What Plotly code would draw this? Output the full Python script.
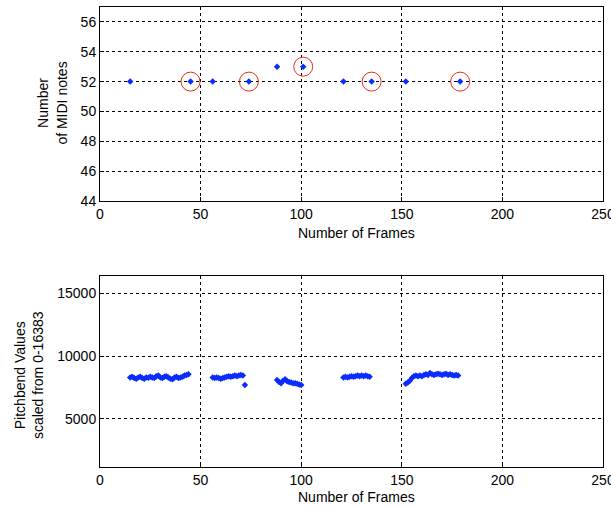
import plotly.graph_objects as go

# ---- data ----
note_frames = [15, 45, 56, 74, 88, 101, 121, 135, 152, 179]
note_values = [52, 52, 52, 52, 53, 53, 52, 52, 52, 52]

circled_frames = [45, 74, 101, 135, 179]
circled_values = [52, 52, 53, 52, 52]

pb_frames = [15, 16, 17, 18, 19, 20, 21, 22, 23, 24, 25, 26, 27, 28, 29,
             30, 31, 32, 33, 34, 35, 36, 37, 38, 39, 40, 41, 42, 43, 44,
             56, 57, 58, 59, 60, 61, 62, 63, 64, 65, 66, 67, 68, 69, 70, 71,
             72,
             88, 89, 90, 91, 92, 93, 94, 95, 96, 97, 98, 99, 100,
             121, 122, 123, 124, 125, 126, 127, 128, 129, 130, 131, 132, 133, 134,
             152, 153, 154, 155, 156, 157, 158, 159, 160, 161, 162, 163, 164, 165,
             166, 167, 168, 169, 170, 171, 172, 173, 174, 175, 176, 177, 178]
pb_values = [8300, 8350, 8250, 8200, 8300, 8350, 8250, 8200, 8300, 8280, 8350, 8300, 8250, 8400, 8450,
             8300, 8250, 8350, 8400, 8300, 8200, 8150, 8300, 8350, 8250, 8300, 8350, 8450, 8500, 8550,
             8300, 8250, 8300, 8250, 8200, 8250, 8300, 8350, 8400, 8350, 8400, 8450, 8400, 8450, 8500, 8450,
             7700,
             8100, 7950, 7850, 8050, 8150, 8000, 7950, 7900, 7850, 7850, 7800, 7750, 7700,
             8300, 8350, 8300, 8350, 8400, 8350, 8400, 8450, 8400, 8450, 8400, 8450, 8400, 8350,
             7800, 7900, 8050, 8250, 8400, 8450, 8400, 8450, 8400, 8500, 8550, 8500, 8650, 8550,
             8500, 8550, 8600, 8550, 8500, 8550, 8600, 8500, 8550, 8500, 8450, 8500, 8450]

x_ticks = [0, 50, 100, 150, 200, 250]
x_tick_labels = ["0", "50", "100", "150", "200", "250"]
top_y_ticks = [44, 46, 48, 50, 52, 54, 56]
top_y_tick_labels = ["44", "46", "48", "50", "52", "54", "56"]
bot_y_ticks = [5000, 10000, 15000]
bot_y_tick_labels = ["5000", "10000", "15000"]

FONT = "Liberation Sans, Arial, sans-serif"
BLUE = "#0a2cff"
RED = "rgb(235,45,25)"

fig = go.Figure()

fig.add_trace(go.Scatter(x=note_frames, y=note_values, mode="markers",
                         marker=dict(symbol="diamond", size=5, color=BLUE),
                         xaxis="x", yaxis="y", showlegend=False))
fig.add_trace(go.Scatter(x=circled_frames, y=circled_values, mode="markers",
                         marker=dict(symbol="circle-open", size=19,
                                     line=dict(color=RED, width=1), color=RED),
                         xaxis="x", yaxis="y", showlegend=False))
fig.add_trace(go.Scatter(x=pb_frames, y=pb_values, mode="markers",
                         marker=dict(symbol="diamond", size=5, color=BLUE),
                         xaxis="x2", yaxis="y2", showlegend=False))

axis_common = dict(
    showline=True, linecolor="black", linewidth=1, mirror=True,
    ticks="inside", ticklen=4, tickcolor="black",
    showgrid=True, gridcolor="black", gridwidth=1, griddash="3px,3px",
    zeroline=False, automargin=False, ticklabeloverflow="allow",
    tickfont=dict(family=FONT, size=14, color="black"),
)

fig.update_layout(
    width=611, height=506,
    margin=dict(l=100, r=8, t=7, b=39),
    paper_bgcolor="white", plot_bgcolor="white",
    template="none",
    font=dict(family=FONT, size=14, color="black"),
    xaxis=dict(domain=[0, 1], range=[0, 250], tickvals=x_ticks, ticktext=x_tick_labels,
               anchor="y", **axis_common),
    yaxis=dict(domain=[0.5783, 1], range=[44, 57], tickvals=top_y_ticks, ticktext=top_y_tick_labels,
               anchor="x", **axis_common),
    xaxis2=dict(domain=[0, 1], range=[0, 250], tickvals=x_ticks, ticktext=x_tick_labels,
                anchor="y2", **axis_common),
    yaxis2=dict(domain=[0, 0.4152], range=[1170, 16383], tickvals=bot_y_ticks, ticktext=bot_y_tick_labels,
                anchor="x2", **axis_common),
    annotations=[
        dict(text="Number of Frames", xref="paper", yref="paper", x=0.51, y=0.5087,
             showarrow=False, font=dict(family=FONT, size=14), xanchor="center", yanchor="middle"),
        dict(text="Number of Frames", xref="paper", yref="paper", x=0.51, y=-0.0652,
             showarrow=False, font=dict(family=FONT, size=14), xanchor="center", yanchor="middle"),
        dict(text="Number<br>of MIDI notes", xref="paper", yref="paper", x=-0.0954, y=0.79,
             showarrow=False, textangle=-90, font=dict(family=FONT, size=14),
             xanchor="center", yanchor="middle"),
        dict(text="Pitchbend Values<br>scaled from 0-16383", xref="paper", yref="paper", x=-0.141, y=0.20,
             showarrow=False, textangle=-90, font=dict(family=FONT, size=14),
             xanchor="center", yanchor="middle"),
    ],
)

fig.write_html("out.html")
